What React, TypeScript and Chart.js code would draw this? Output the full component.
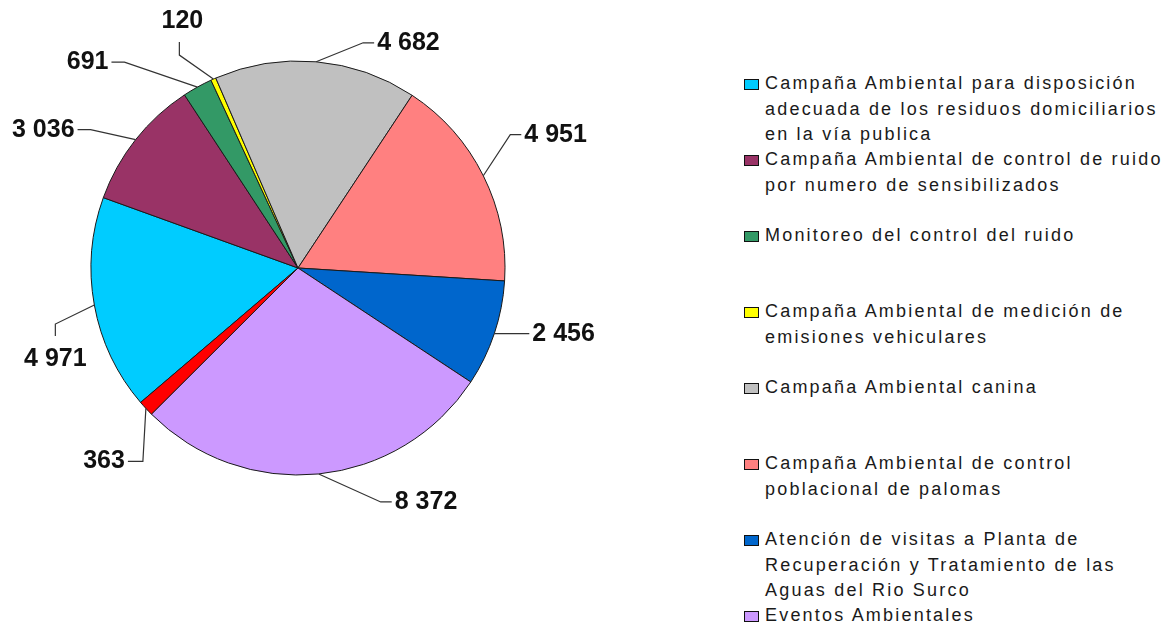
import React, { useEffect, useRef } from "react";
import { Chart, registerables } from "chart.js";

Chart.register(...registerables);

// ---- Data ----
const categories: string[][] = [
  ["Campaña Ambiental para disposición", "adecuada de los residuos domiciliarios", "en la vía publica"],
  ["Campaña Ambiental de control de ruido", "por numero de sensibilizados"],
  ["Monitoreo del control del ruido"],
  ["Campaña Ambiental de medición de", "emisiones vehiculares"],
  ["Campaña Ambiental canina"],
  ["Campaña Ambiental de control", "poblacional de palomas"],
  ["Atención de visitas a Planta de", "Recuperación y Tratamiento de las", "Aguas del Rio Surco"],
  ["Eventos Ambientales"],
  ["Otros"],
];
const values: number[] = [4971, 3036, 691, 120, 4682, 4951, 2456, 8372, 363];
const colors: string[] = [
  "#00CCFF",
  "#993366",
  "#339966",
  "#FFFF00",
  "#C0C0C0",
  "#FF8080",
  "#0066CC",
  "#CC99FF",
  "#FF0000",
];
const legendVisibleCount = 8;

// ---- Layout of leader lines (relative to each slice's outer edge midpoint) ----
type Side = "left" | "right" | "up" | "down";
const labelLeaders: { dx: number; dy: number; side: Side; seg: number }[] = [
  { dx: -39, dy: 19, side: "down", seg: 12 },
  { dx: -45, dy: -10, side: "left", seg: 13 },
  { dx: -73, dy: -25, side: "left", seg: 13 },
  { dx: -34, dy: -24, side: "up", seg: 13 },
  { dx: 47, dy: -19, side: "right", seg: 11 },
  { dx: 27, dy: -41, side: "right", seg: 11 },
  { dx: 22, dy: 0, side: "right", seg: 13 },
  { dx: 62, dy: 28, side: "right", seg: 11 },
  { dx: -3, dy: 53, side: "left", seg: 15 },
];

const fmt = (v: number) => String(v).replace(/\B(?=(\d{3})+(?!\d))/g, " ");

const labelPlugin = {
  id: "leaderLabels",
  afterDatasetsDraw(chart: any) {
    const ctx = chart.ctx as CanvasRenderingContext2D;
    const meta = chart.getDatasetMeta(0);
    ctx.save();
    ctx.font = "bold 25px 'Liberation Sans', Arial, sans-serif";
    ctx.fillStyle = "#111";
    ctx.strokeStyle = "#333";
    ctx.lineWidth = 1.2;
    meta.data.forEach((arc: any, i: number) => {
      const p = arc.getProps(["x", "y", "startAngle", "endAngle", "outerRadius"], true);
      const mid = (p.startAngle + p.endAngle) / 2;
      const ex = p.x + Math.cos(mid) * p.outerRadius;
      const ey = p.y + Math.sin(mid) * p.outerRadius;
      const L = labelLeaders[i];
      const bx = ex + L.dx;
      const by = ey + L.dy;
      let cx = bx;
      let cy = by;
      let tx = bx;
      let ty = by;
      let align: CanvasTextAlign = "left";
      if (L.side === "left") {
        cx = bx - L.seg;
        tx = cx - 3;
        ty = cy;
        align = "right";
      } else if (L.side === "right") {
        cx = bx + L.seg;
        tx = cx + 3;
        ty = cy;
        align = "left";
      } else if (L.side === "up") {
        cy = by - L.seg;
        tx = cx + 3;
        ty = cy - 21;
        align = "center";
      } else {
        cy = by + L.seg;
        tx = cx;
        ty = cy + 23;
        align = "center";
      }
      ctx.beginPath();
      ctx.moveTo(ex, ey);
      ctx.lineTo(bx, by);
      ctx.lineTo(cx, cy);
      ctx.stroke();
      ctx.textAlign = align;
      ctx.textBaseline = "middle";
      ctx.fillText(fmt(values[i]), tx, ty);
    });
    ctx.restore();
  },
};

export default function App() {
  const canvasRef = useRef<HTMLCanvasElement | null>(null);

  useEffect(() => {
    if (!canvasRef.current) return;
    const chart = new Chart(canvasRef.current, {
      type: "pie",
      data: {
        labels: categories,
        datasets: [
          {
            data: values,
            backgroundColor: colors,
            borderColor: "#1a1a1a",
            borderWidth: 1,
            hoverOffset: 0,
            offset: 0,
          },
        ],
      },
      options: {
        responsive: false,
        animation: false,
        rotation: 229.5,
        radius: 207,
        layout: { padding: { left: 91, top: 61, right: 215, bottom: 150 } },
        plugins: {
          legend: { display: false },
          tooltip: { enabled: false },
        },
      } as any,
      plugins: [labelPlugin],
    });
    return () => chart.destroy();
  }, []);

  const slot = 76;
  const firstCenter = 84;
  const lineH = 25.5;

  return (
    <div
      style={{
        position: "absolute",
        left: 0,
        top: 0,
        width: 1166,
        height: 625,
        overflow: "hidden",
        background: "#fff",
      }}
    >
      <canvas
        ref={canvasRef}
        width={720}
        height={625}
        style={{ position: "absolute", left: 0, top: 0, width: 720, height: 625 }}
      />
      {categories.slice(0, legendVisibleCount).map((lines, i) => {
        const center = firstCenter + slot * i;
        return (
          <div key={i}>
            <div
              style={{
                position: "absolute",
                left: 744,
                top: center - 5.5,
                width: 15,
                height: 11,
                boxSizing: "border-box",
                border: "1.5px solid #111",
                background: colors[i],
              }}
            />
            <div
              style={{
                position: "absolute",
                left: 765,
                top: center - lineH / 2,
                fontFamily: "'Liberation Sans', Arial, sans-serif",
                fontSize: 18,
                letterSpacing: "2.2px",
                lineHeight: `${lineH}px`,
                color: "#1a1a1a",
                whiteSpace: "nowrap",
              }}
            >
              {lines.map((l, j) => (
                <div key={j}>{l}</div>
              ))}
            </div>
          </div>
        );
      })}
    </div>
  );
}
